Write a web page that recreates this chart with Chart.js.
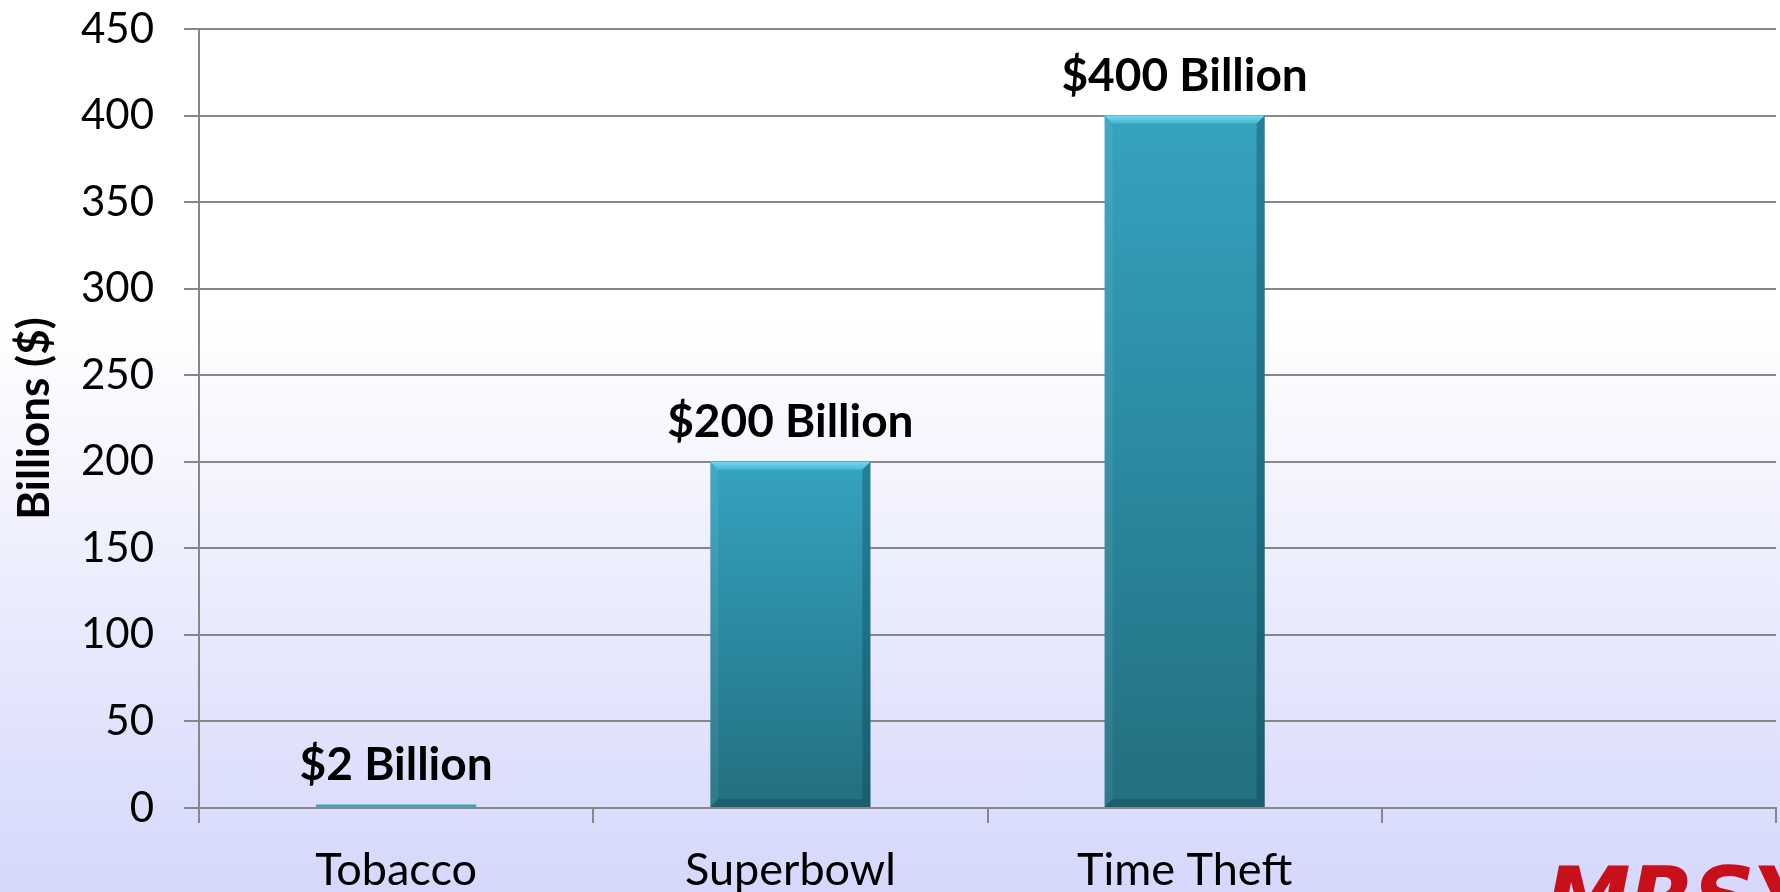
<!DOCTYPE html>
<html>
<head>
<meta charset="utf-8">
<script src="https://cdn.jsdelivr.net/npm/chart.js@4.4.0/dist/chart.umd.min.js"></script>
<style>
    html, body { margin: 0; padding: 0; width: 1780px; height: 892px; overflow: hidden; }
    body {
        position: relative;
        background: linear-gradient(to bottom, #ffffff 0%, #ffffff 36%, #d5d8fb 100%);
    }
    #logo {
        position: absolute;
        left: 1545px;
        top: 855px;
        color: #c8101a;
        font: italic bold 86px/86px "DejaVu Sans";
        letter-spacing: -2px;
    }
</style>
</head>
<body>
<canvas id="chart" width="1780" height="892"></canvas>
<div id="logo">MRSY</div>
<script>
// dati del grafico
const categories = ["Tobacco", "Superbowl", "Time Theft", ""];
const values = [2, 200, 400, null];
const valueLabels = ["$2 Billion", "$200 Billion", "$400 Billion", ""];
const yMin = 0;
const yMax = 450;
const yStep = 50;

const gridColor = "#878787";

// gradiente per ogni barra, chiaro in alto e scuro in basso
function barFill(c) {
    const { ctx, chartArea, scales } = c.chart;
    if (!chartArea || c.raw == null) return "#2f9ab6";
    const top = scales.y.getPixelForValue(c.raw);
    const bottom = scales.y.getPixelForValue(0);
    if (bottom - top < 6) return "#3aa3bd";
    const g = ctx.createLinearGradient(0, top, 0, bottom);
    g.addColorStop(0, "#35a3c0");
    g.addColorStop(1, "#226f7f");
    return g;
}

// effetto smussato sui bordi delle barre
const bevelPlugin = {
    id: "bevel",
    afterDatasetsDraw(chart) {
        const { ctx } = chart;
        const meta = chart.getDatasetMeta(0);
        meta.data.forEach((bar, i) => {
            if (values[i] == null) return;
            const h = bar.base - bar.y;
            if (h < 20) return;
            const l = bar.x - bar.width / 2;
            const r = bar.x + bar.width / 2;
            const t = bar.y;
            const b = bar.base;
            const s = 8;
            ctx.save();
            // alto
            const gt = ctx.createLinearGradient(0, t, 0, t + s);
            gt.addColorStop(0, "#6fdcf2");
            gt.addColorStop(1, "#45b6d2");
            ctx.fillStyle = gt;
            ctx.beginPath();
            ctx.moveTo(l, t); ctx.lineTo(r, t); ctx.lineTo(r - s, t + s); ctx.lineTo(l + s, t + s);
            ctx.closePath(); ctx.fill();
            // destra
            ctx.fillStyle = "rgba(10, 60, 80, 0.35)";
            ctx.beginPath();
            ctx.moveTo(r, t); ctx.lineTo(r, b); ctx.lineTo(r - s, b - s); ctx.lineTo(r - s, t + s);
            ctx.closePath(); ctx.fill();
            // sinistra
            ctx.fillStyle = "rgba(255, 255, 255, 0.07)";
            ctx.beginPath();
            ctx.moveTo(l, t); ctx.lineTo(l + s, t + s); ctx.lineTo(l + s, b - s); ctx.lineTo(l, b);
            ctx.closePath(); ctx.fill();
            // basso
            ctx.fillStyle = "rgba(10, 50, 60, 0.25)";
            ctx.beginPath();
            ctx.moveTo(l, b); ctx.lineTo(l + s, b - s); ctx.lineTo(r - s, b - s); ctx.lineTo(r, b);
            ctx.closePath(); ctx.fill();
            ctx.restore();
        });
    }
};

// etichette sopra le barre
const valueLabelPlugin = {
    id: "valueLabels",
    afterDatasetsDraw(chart) {
        const { ctx } = chart;
        const meta = chart.getDatasetMeta(0);
        ctx.save();
        ctx.fillStyle = "#000000";
        ctx.font = "bold 46px Lato";
        ctx.textAlign = "center";
        ctx.textBaseline = "alphabetic";
        meta.data.forEach((bar, i) => {
            if (!valueLabels[i]) return;
            ctx.fillText(valueLabels[i], bar.x, bar.y - 25);
        });
        ctx.restore();
    }
};

new Chart(document.getElementById("chart"), {
    type: "bar",
    data: {
        labels: categories,
        datasets: [{
            data: values,
            backgroundColor: barFill,
            borderWidth: 0,
            categoryPercentage: 1,
            barPercentage: 0.406
        }]
    },
    options: {
        responsive: false,
        animation: false,
        devicePixelRatio: 1,
        layout: { padding: { top: 29, right: 4, left: 0, bottom: 0 } },
        plugins: {
            legend: { display: false },
            tooltip: { enabled: false }
        },
        scales: {
            x: {
                grid: {
                    drawOnChartArea: false,
                    drawTicks: true,
                    tickLength: 15,
                    color: gridColor,
                    lineWidth: 2
                },
                border: { color: gridColor, width: 2 },
                ticks: {
                    color: "#000000",
                    font: { family: "Lato", size: 45 },
                    padding: 20
                },
                afterFit(scale) { scale.height = 84; }
            },
            y: {
                min: yMin,
                max: yMax,
                ticks: {
                    stepSize: yStep,
                    color: "#000000",
                    font: { family: "Lato", size: 42 },
                    padding: 30
                },
                grid: {
                    color: gridColor,
                    lineWidth: 2,
                    tickLength: 15
                },
                border: { color: gridColor, width: 2 },
                title: {
                    display: true,
                    text: "Billions ($)",
                    color: "#000000",
                    font: { family: "Lato", size: 44, weight: "bold" },
                    padding: { top: 8, bottom: 0 }
                },
                afterFit(scale) {
                    scale.width = 199;
                    scale.paddingTop = 0;
                    scale.paddingBottom = 0;
                }
            }
        }
    },
    plugins: [bevelPlugin, valueLabelPlugin]
});
</script>
</body>
</html>
